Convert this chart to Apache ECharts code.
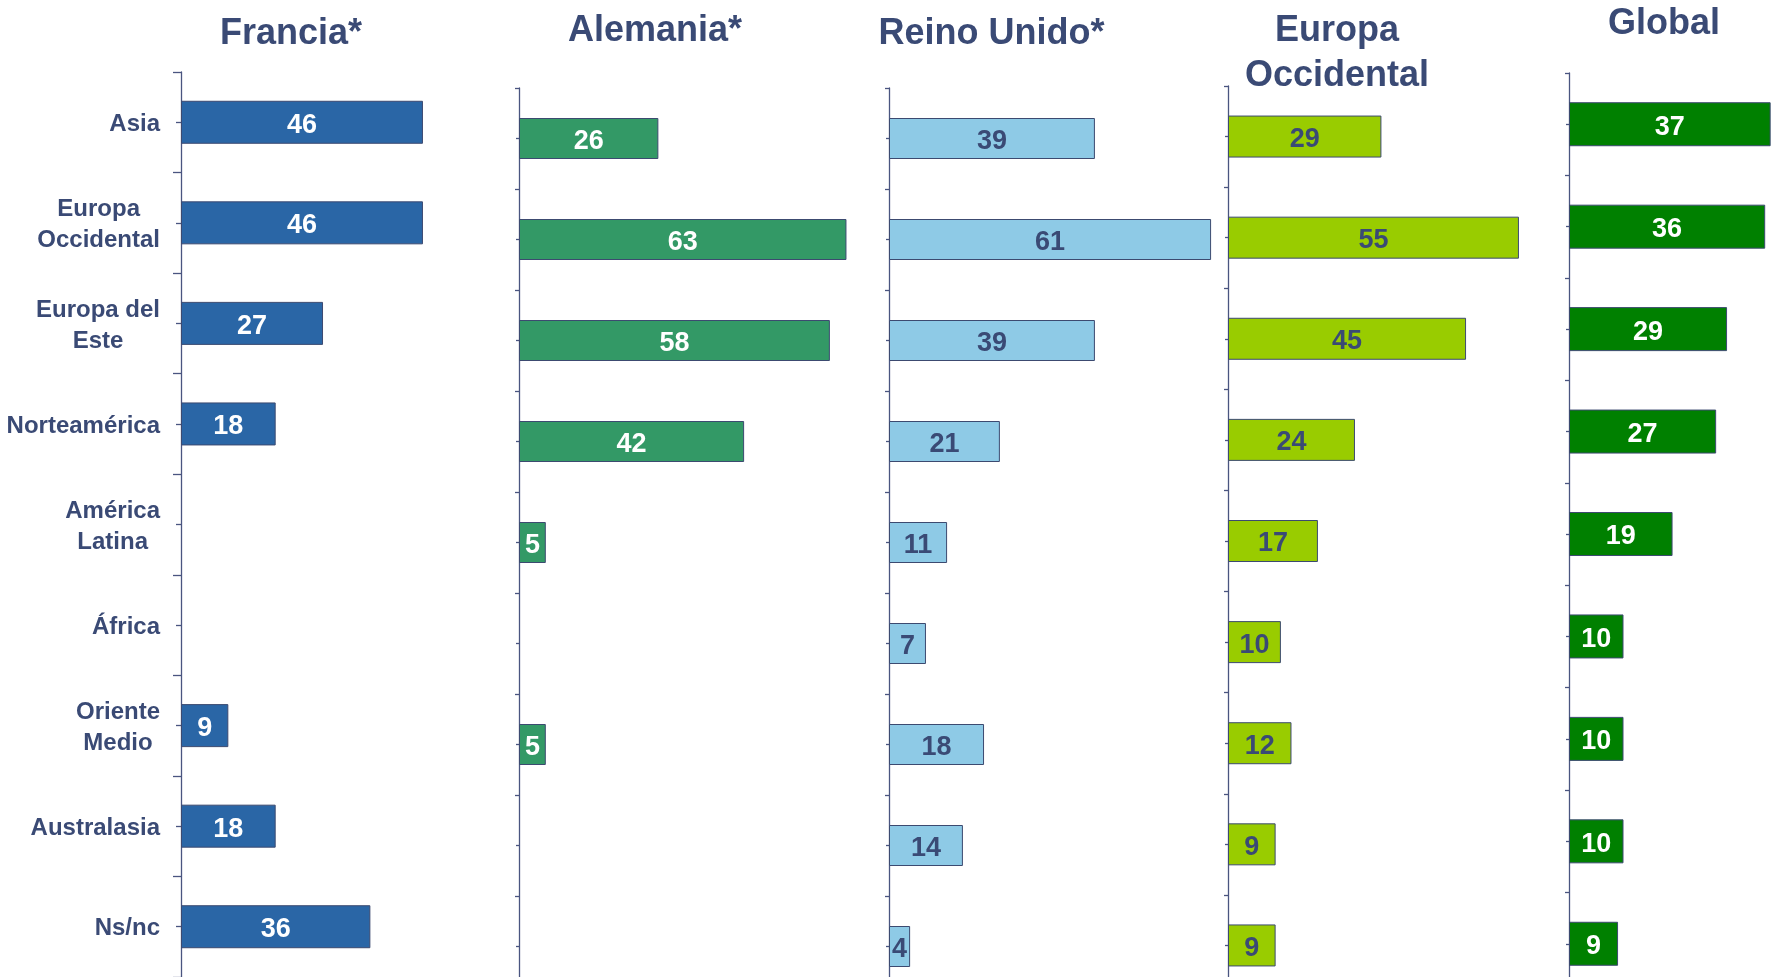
<!DOCTYPE html>
<html><head><meta charset="utf-8">
<script src="https://cdn.jsdelivr.net/npm/echarts@6/dist/echarts.min.js"></script>
<style>html,body{margin:0;padding:0;background:#fff}#c{width:1772px;height:977px}</style>
</head><body><div id="c"></div>
<script>
// ---- data ----
const categories = ['Asia','Europa\nOccidental','Europa del\nEste','Norteamérica','América\nLatina','África','Oriente\nMedio','Australasia','Ns/nc'];
const panelTitles = ['Francia*','Alemania*','Reino Unido*','Europa\nOccidental','Global'];
const francia = [46,46,27,18,null,null,9,18,36];
const alemania = [26,63,58,42,5,null,5,null,null];
const reinoUnido = [39,61,39,21,11,7,18,14,4];
const europaOccidental = [29,55,45,24,17,10,12,9,9];
const globalValues = [37,36,29,27,19,10,10,10,9];

// ---- layout / style ----
const FONT = 'Liberation Sans, Arial, Helvetica, sans-serif';
const NAVY = '#3A4A75';
const AXIS = '#4A5580';
const panels = [
  {data: francia, color:'#2A66A6', label:'#ffffff', left:181, top:72, height:905, max:50, scale:5.26, bw:43, tick:8, minor:5, labels:true, tx:291, ty:34},
  {data: alemania, color:'#339966', label:'#ffffff', left:519, top:88, height:909, max:61, scale:5.36, bw:41, tick:4, minor:3, labels:false, tx:655, ty:31.5},
  {data: reinoUnido, color:'#8ECAE6', label:NAVY, left:889, top:88, height:909, max:65, scale:5.28, bw:41, tick:4, minor:3, labels:false, tx:991.5, ty:34},
  {data: europaOccidental, color:'#99CC00', label:NAVY, left:1228, top:86, height:910, max:60, scale:5.29, bw:42, tick:4, minor:3, labels:false, tx:1337, ty:54},
  {data: globalValues, color:'#008000', label:'#ffffff', left:1569, top:73, height:922, max:40, scale:5.45, bw:44, tick:4, minor:3, labels:false, tx:1664, ty:24.5}
];

const grid = [], xAxis = [], yAxis = [], series = [], graphic = [];
panels.forEach((p, i) => {
  grid.push({left:p.left, top:p.top, width:p.max*p.scale, height:p.height, containLabel:false, outerBoundsMode:'none'});
  xAxis.push({type:'value', gridIndex:i, min:0, max:p.max, show:false});
  yAxis.push({
    type:'category', gridIndex:i, inverse:true, data:categories, position:'left', offset:0,
    axisLine:{show:true, lineStyle:{color:AXIS, width:1.3}},
    axisTick:{show:true, length:p.tick, lineStyle:{color:AXIS, width:1.3}},
    splitLine:{show:false},
    axisLabel:{
      show:p.labels, margin:21, interval:0, padding:[4,0,0,0],
      formatter: v => v.split('\n').map(s => '{c|' + s + '}').join('\n'),
      rich:{c:{align:'center', fontSize:24, fontWeight:'bold', fontFamily:FONT, color:NAVY, lineHeight:31}}
    }
  });
  yAxis.push({
    type:'category', gridIndex:i, inverse:true, data:categories, position:'left', offset:0,
    axisLine:{show:false},
    axisTick:{show:true, alignWithLabel:true, length:p.minor, lineStyle:{color:AXIS, width:1.3}},
    axisLabel:{show:false}, splitLine:{show:false}
  });
  series.push({
    type:'bar', xAxisIndex:i, yAxisIndex:2*i, data:p.data, barWidth:p.bw,
    itemStyle:{color:p.color, borderColor:'#3C4A70', borderWidth:1},
    label:{show:true, position:'inside', offset:[0,3], formatter:'{c}', color:p.label, fontSize:27, fontWeight:'bold', fontFamily:FONT},
    silent:true, animation:false
  });
  graphic.push({
    type:'text', x:p.tx, y:p.ty,
    style:{text:panelTitles[i], align:'center', verticalAlign:'middle', fill:NAVY,
      font:'bold 36px ' + FONT, lineHeight:45}
  });
});

const chart = echarts.init(document.getElementById('c'), null, {renderer:'canvas'});
chart.setOption({backgroundColor:'#ffffff', animation:false, grid, xAxis, yAxis, series, graphic});
</script></body></html>
